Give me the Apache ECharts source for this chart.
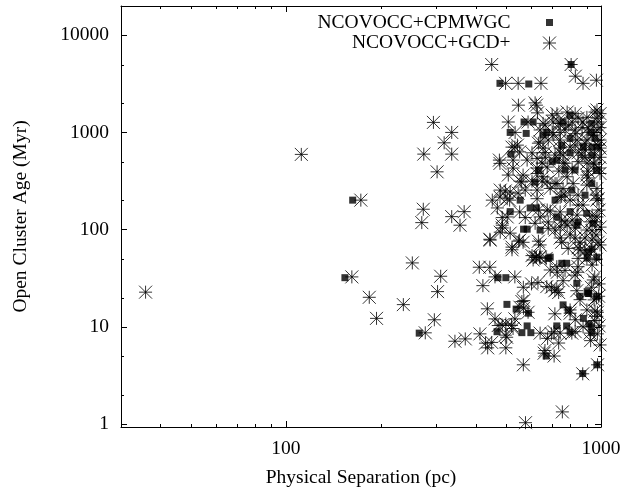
<!DOCTYPE html>
<html><head><meta charset="utf-8">
<script src="https://cdn.jsdelivr.net/npm/echarts@6/dist/echarts.min.js"></script>
<style>html,body{margin:0;padding:0;background:#fff}#c{width:638px;height:489px}</style>
</head><body><div id="c"></div>
<script>
const seriesNames = ['NCOVOCC+CPMWGC', 'NCOVOCC+GCD+'];
const xTitle = 'Physical Separation (pc)';
const yTitle = 'Open Cluster Age (Myr)';
const xRange = [30, 1000];
const yRange = [0.93, 20000];
const xMinorTicks = [40,50,60,70,80,90,200,300,400,500,600,700,800,900];
const yMinorTicks = [2,5,20,50,200,500,2000,5000];

// [separation (pc), age (Myr)]
const cpmwgcPoints = [
[163,201],[154,32],[265,8.6],[478,3200],[590,3150],[804,5000],[798,1500],[570,1280],[609,1280],[758,1280],
[935,1240],[515,1000],[579,977],[673,1000],[935,1000],[798,868],[957,868],[879,706],[935,706],[518,598],
[798,617],[935,584],[724,519],[769,410],[827,410],[633,410],[969,410],[618,308],[935,297],[808,255],
[554,201],[715,201],[890,226],[515,153],[596,167],[624,167],[798,153],[901,147],[724,135],[568,101],
[583,101],[641,99],[838,111],[945,116],[912,59],[690,52],[751,45],[778,45],[904,51],[970,52],
[471,32],[499,32],[838,28],[904,23],[915,22],[858,20.6],[970,20.6],[503,17],[538,15.2],[589,13.8],
[758,16.8],[787,14.9],[879,12.2],[583,10.2],[468,8.9],[561,8.7],[599,8.7],[724,10.2],[778,10.2],[798,8.8],
[935,8.7],[931,10],[670,5.0],[875,3.3],[970,4.06],[937,63],[915,10.7],[910,22],
[655,940],[750,740],[971,706],[700,500],[846,120],[680,50.5]
];

const gcdPoints = [
[35.9,22.7],[112,594],[173,201],[162,32.6],[184,20.1],[194,12.2],[236,16.9],[252,45.4],[310,33.1],[303,23],
[296,11.8],[277,8.66],[344,7.1],[371,7.5],[294,1268],[336,1000],[318,782],[274,598],[336,598],[302,393],
[273,162],[270,118],[336,136],[368,153],[357,111],[450,5000],[498,3200],[546,3200],[645,3200],[804,5000],
[829,3790],[877,3200],[967,3447],[547,1908],[618,2014],[624,1908],[629,1590],[444,79.5],
[411,41],[444,41],[422,26.5],[436,15.3],[461,32.6],[533,32.6],[413,8.45],[430,6.78],[437,6.07],[450,6.9],
[461,12.06],[472,10.3],[499,10.7],[502,7.8],[499,6.07],[520,10.3],[533,12.06],[569,18.6],[553,15.9],[587,14.1],
[567,25.5],[602,27.6],[624,52],[638,52],[567,4.06],[576,1.03],[664,5.7],[710,5.0],[696,8.45],[714,13.6],
[754,1.33],[727,36.4],[758,29.8],[696,25.5],[714,23.5],[838,23.5],[841,36.4],[888,60.7],[932,62.7],[967,49.6],
[955,32.6],[932,25.5],[967,19.8],[974,14.1],[955,11.6],[974,8.45],[927,7.2],
[725,1560],[781,1620],[828,1560],[902,1430],[957,1620],[971,1400],
[508,1280],[587,1280],[655,1240],[705,1280],[742,1240],[810,1280],[846,1400],[877,1280],[979,1280],[993,1560],
[534,1000],[641,1060],[700,1000],[742,1000],[828,1060],[871,1120],[971,1060],[993,1120],
[641,800],[680,835],[742,835],[840,835],[902,835],[993,835],
[522,706],[543,740],[655,690],[742,690],[798,706],[993,690],
[552,630],[604,617],[627,540],[665,555],[742,617],[846,617],[890,555],[993,555],[476,519],[526,519],
[583,519],[758,483],[902,483],
[526,430],[627,430],[675,440],[508,364],[566,364],[627,378],[655,350],[781,350],[902,364],[993,378],
[675,308],[725,297],[816,297],[479,255],[515,243],[575,255],[627,255],[690,265],[758,265],[971,265],[902,287],
[452,201],[504,208],[627,208],[742,215],[798,201],[971,201],[846,226],
[469,167],[675,159],[742,152],[840,141],[937,141],[971,135],[504,135],[641,135],[810,125],[552,152],
[486,111],[618,116],[680,103],[781,111],[902,99],[742,106],[993,106],
[445,78],[479,94],[552,78],[566,74],[633,76],[742,82],[798,88],[858,74],[937,78],[515,92],
[522,62],[858,62],[618,52],[641,52],[902,51],
[486,10.4],[497,8.2],[526,9.6],[561,18.2],[568,15.5],[631,28.5],[673,25.9],[724,24.4],[734,22.5],[609,48.7],
[670,50.5],[724,41.5],[690,38.4],[641,8.6],[677,7.6],[710,8.9],[742,8.6],[734,6.8],[660,5.35],[808,8.6],
[828,8.9],[877,10],[923,8.6],[798,14.9],[798,13.8],[828,34],[846,41.5],[957,14.5],[970,12.8],[945,30.3],
[983,20.6],[875,3.28],[975,4.06],
[910,1110],[945,940],[979,740],[890,660],[951,470],[986,430],[910,340],[964,226],[877,179],[986,159],
[923,120],[964,88],[890,82],[993,69.5],[937,43.2],[986,27.6],[951,18.9],[986,10.2],[993,6.5],[902,14.9],
[769,1060],[828,740],[758,584],[810,420],[769,226],[846,179],[750,125],[828,82],[787,64],[769,38],
[858,19],[828,11.8],[478,480],[533,706],[478,216],[513,201],[546,237],[560,308],
[700,1506],[971,1700],[665,1190],[735,1240],[787,1190],[705,940],[828,970],[910,1000],[633,775],[890,775],
[665,620],[715,584],[871,584],[957,584],[650,483],[769,483],[846,500],[945,483],[735,400],[910,400],
[650,315],[715,297],[750,220],[979,208],[633,159],[690,155],[680,120],[769,120],[957,120],[715,99],
[828,104],[937,97],[641,69.5],[750,74],[846,65],[979,74],[846,50.5],
[554,315],[604,315],[497,250],[486,133],[575,133],[486,104],[522,66],[548,76],[604,54]
];

const FONT = '"Liberation Serif", "Times New Roman", serif';
const FS = 19.5;
const chart = echarts.init(document.getElementById('c'), null, {renderer: 'canvas'});
const decadeLabel = v => { const l = Math.log10(v); return Math.abs(l - Math.round(l)) < 1e-6 ? String(Math.round(v)) : ''; };
const ASTER = 'path://M-1,-1L1,1M-1,1L1,-1M0,-1L0,1M-1,0L1,0';
const legSquare = 'path://M0,0M68,14M30.5,3.5L37.5,3.5L37.5,10.5L30.5,10.5Z';
const legAster = 'path://M0,0M68,14M27.5,0.5L40.5,13.5M27.5,13.5L40.5,0.5M34,0.5L34,13.5M27.5,7L40.5,7';
const lineStyle = {color: '#000', width: 1};

function baseAxis(extra) {
  return Object.assign({
    type: 'log', logBase: 10,
    axisLine: {show: true, lineStyle},
    axisTick: {show: true, inside: true, length: 6, lineStyle},
    splitLine: {show: false},
    minorTick: {show: false},
    axisLabel: {color: '#000', fontFamily: FONT, fontSize: FS, formatter: decadeLabel}
  }, extra);
}

chart.setOption({
  animation: false,
  backgroundColor: '#fff',
  grid: {left: 121, right: 37, top: 6, bottom: 62, containLabel: false, outerBoundsMode: 'none'},
  legend: {
    orient: 'vertical', align: 'right', right: 54, top: 12.5, itemGap: 0.5, padding: 0,
    itemWidth: 68, itemHeight: 14,
    textStyle: {color: '#000', fontFamily: FONT, fontSize: FS},
    data: [
      {name: seriesNames[0], icon: legSquare, itemStyle: {color: '#000', borderWidth: 0}},
      {name: seriesNames[1], icon: legAster, itemStyle: {color: 'rgba(0,0,0,0)', borderColor: '#000', borderWidth: 1}}
    ]
  },
  xAxis: [
    baseAxis({min: xRange[0], max: xRange[1], position: 'bottom',
      name: xTitle, nameLocation: 'middle', nameGap: 41,
      nameTextStyle: {color: '#000', fontFamily: FONT, fontSize: FS},
      axisLabel: {color: '#000', fontFamily: FONT, fontSize: FS, margin: 12, formatter: decadeLabel}}),
    baseAxis({min: xRange[0], max: xRange[1], position: 'top', axisLabel: {show: false}})
  ],
  yAxis: [
    baseAxis({min: yRange[0], max: yRange[1], position: 'left',
      name: yTitle, nameLocation: 'middle', nameGap: 90,
      nameTextStyle: {color: '#000', fontFamily: FONT, fontSize: FS},
      axisLabel: {color: '#000', fontFamily: FONT, fontSize: FS, margin: 12, formatter: decadeLabel}}),
    baseAxis({min: yRange[0], max: yRange[1], position: 'right', axisLabel: {show: false}})
  ],
  series: [
    {
      name: seriesNames[0], type: 'scatter', data: cpmwgcPoints,
      symbol: 'rect', symbolSize: 7,
      itemStyle: {color: '#000'}
    },
    {
      name: seriesNames[1], type: 'scatter', data: gcdPoints,
      symbol: ASTER, symbolSize: 13,
      itemStyle: {color: 'rgba(0,0,0,0)', borderColor: '#000', borderWidth: 1}
    },
    {
      type: 'custom', silent: true, clip: false,
      data: xMinorTicks.map(v => [v, 10]),
      renderItem: function (params, api) {
        const cs = params.coordSys;
        const x = Math.round(api.coord([api.value(0), 10])[0]) + 0.5;
        const yb = cs.y + cs.height, yt = cs.y;
        return {type: 'group', children: [
          {type: 'line', shape: {x1: x, y1: yb, x2: x, y2: yb - 3}, style: {stroke: '#000', lineWidth: 1}},
          {type: 'line', shape: {x1: x, y1: yt, x2: x, y2: yt + 3}, style: {stroke: '#000', lineWidth: 1}}
        ]};
      }
    },
    {
      type: 'custom', silent: true, clip: false,
      data: yMinorTicks.map(v => [100, v]),
      renderItem: function (params, api) {
        const cs = params.coordSys;
        const y = Math.round(api.coord([100, api.value(1)])[1]) + 0.5;
        const xl = cs.x, xr = cs.x + cs.width;
        return {type: 'group', children: [
          {type: 'line', shape: {x1: xl, y1: y, x2: xl + 3, y2: y}, style: {stroke: '#000', lineWidth: 1}},
          {type: 'line', shape: {x1: xr, y1: y, x2: xr - 3, y2: y}, style: {stroke: '#000', lineWidth: 1}}
        ]};
      }
    }
  ]
});
</script>
</body></html>
